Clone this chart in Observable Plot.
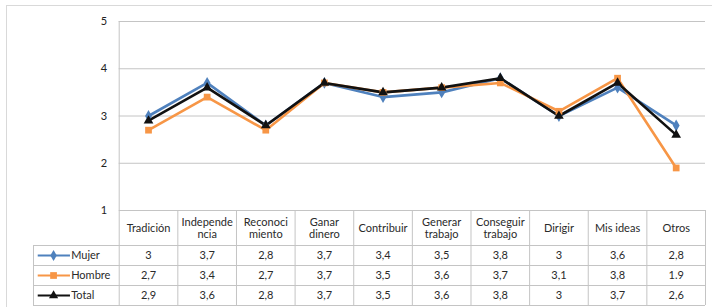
<!DOCTYPE html>
<html>
<head>
<meta charset="utf-8">
<script src="https://cdn.jsdelivr.net/npm/d3@7"></script>
<script src="https://cdn.jsdelivr.net/npm/@observablehq/plot@0.6"></script>
<style>
  html, body { margin: 0; padding: 0; background: #fff; }
  #wrap { position: relative; width: 712px; height: 307px; overflow: hidden; font-family: Lato, "Open Sans", sans-serif; }
  #frame { position: absolute; left: 6px; top: 5px; width: 720px; height: 320px; border-left: 1px solid #d9d9d9; border-top: 1px solid #d9d9d9; }
  #chart, #table { position: absolute; left: 0; }
  #chart { top: 0; }
  #table { top: 210px; }
</style>
</head>
<body>
<div id="wrap"><div id="frame"></div><div id="chart"></div><div id="table"></div></div>
<script>
const categories = ["Tradición", "Independe\nncia", "Reconoci\nmiento", "Ganar\ndinero", "Contribuir", "Generar\ntrabajo", "Conseguir\ntrabajo", "Dirigir", "Mis ideas", "Otros"];
const mujer  = [3, 3.7, 2.8, 3.7, 3.4, 3.5, 3.8, 3, 3.6, 2.8];
const hombre = [2.7, 3.4, 2.7, 3.7, 3.5, 3.6, 3.7, 3.1, 3.8, 1.9];
const total  = [2.9, 3.6, 2.8, 3.7, 3.5, 3.6, 3.8, 3, 3.7, 2.6];
const mujerLabels  = ["3", "3,7", "2,8", "3,7", "3,4", "3,5", "3,8", "3", "3,6", "2,8"];
const hombreLabels = ["2,7", "3,4", "2,7", "3,7", "3,5", "3,6", "3,7", "3,1", "3,8", "1.9"];
const totalLabels  = ["2,9", "3,6", "2,8", "3,7", "3,5", "3,6", "3,8", "3", "3,7", "2,6"];
const yTicks = [1, 2, 3, 4, 5];
const seriesNames = ["Mujer", "Hombre", "Total"];
const seriesColors = ["#4f81bd", "#f79646", "#111111"];
const seriesSymbols = ["diamond", "square", "triangle"];

const seriesValues = [mujer, hombre, total];
const seriesLabels = [mujerLabels, hombreLabels, totalLabels];

const points = seriesValues.flatMap((vals, s) =>
  vals.map((v, i) => ({series: seriesNames[s], s, i: i + 0.5, v})));

const font = "Lato, 'Open Sans', sans-serif";
const grid = "#c4c4c4";

// ---- Chart ----
const chart = Plot.plot({
  width: 712,
  height: 218,
  marginLeft: 118.7,
  marginRight: 7,
  marginTop: 21,
  marginBottom: 8,
  style: {background: "transparent", fontFamily: font, fontSize: "11px", color: "#222"},
  x: {domain: [0, 10], axis: null},
  y: {domain: [1, 5], ticks: yTicks, tickFormat: d3.format("d"), tickSize: 0, tickPadding: 12, label: null},
  marks: [
    Plot.ruleY(yTicks.filter(t => t > 1), {x1: 0, x2: 10, stroke: grid, strokeWidth: 1}),
    Plot.ruleX([0], {y1: 1, y2: 5, stroke: grid}),
    ...[0, 1, 2].map(s => Plot.line(points.filter(d => d.s === s), {
      x: "i", y: "v", stroke: seriesColors[s], strokeWidth: 2.6, strokeLinejoin: "miter"
    })),
    ...[0, 1, 2].map(s => Plot.dot(points.filter(d => d.s === s), {
      x: "i", y: "v", fill: seriesColors[s], stroke: "none",
      symbol: seriesSymbols[s], r: s === 1 ? 3.8 : 3.6
    }))
  ]
});
document.getElementById("chart").appendChild(chart);

// ---- Table ----
const legendLeft = -1.462;
const headerH = 1.75;
const rowYs = [headerH, headerH + 1, headerH + 2, headerH + 3];
const cells = seriesLabels.flatMap((labs, s) =>
  labs.map((t, i) => ({x: i + 0.5, y: headerH + s + 0.5, t})));
const heads = categories.map((c, i) => ({x: i + 0.5, y: headerH / 2, t: c}));
const legendRows = seriesNames.map((n, s) => ({n, s, y: headerH + s + 0.5}));
const colBounds = d3.range(0, 11);

const table = Plot.plot({
  width: 712,
  height: 97,
  marginLeft: 33,
  marginRight: 7,
  marginTop: 0,
  marginBottom: 2,
  style: {background: "transparent", fontFamily: font, fontSize: "11px", color: "#222"},
  x: {domain: [legendLeft, 10], axis: null},
  y: {domain: [0, headerH + 3], reverse: true, axis: null},
  marks: [
    Plot.ruleY([0], {x1: 0, x2: 10, stroke: grid}),
    Plot.ruleY(rowYs, {x1: legendLeft, x2: 10, stroke: grid}),
    Plot.ruleX(colBounds, {y1: 0, y2: headerH + 3, stroke: grid}),
    Plot.ruleX([legendLeft], {y1: headerH, y2: headerH + 3, stroke: grid}),
    Plot.text(heads, {x: "x", y: "y", text: "t", fontSize: 11, fill: "#2a2a2a", lineHeight: 1.15}),
    Plot.text(cells, {x: "x", y: "y", text: "t", fontSize: 11, fill: "#2a2a2a"}),
    ...[0, 1, 2].map(s => Plot.link(legendRows.filter(d => d.s === s), {
      x1: -1.39, x2: -0.84, y1: "y", y2: "y", stroke: seriesColors[s], strokeWidth: 2.2
    })),
    ...[0, 1, 2].map(s => Plot.dot(legendRows.filter(d => d.s === s), {
      x: -1.12, y: "y", fill: seriesColors[s], stroke: "none",
      symbol: seriesSymbols[s], r: s === 1 ? 3.8 : 3.4
    })),
    Plot.text(legendRows, {x: -0.82, y: "y", text: "n", textAnchor: "start", fontSize: 11, fill: "#2a2a2a"})
  ]
});
document.getElementById("table").appendChild(table);
</script>
</body>
</html>
